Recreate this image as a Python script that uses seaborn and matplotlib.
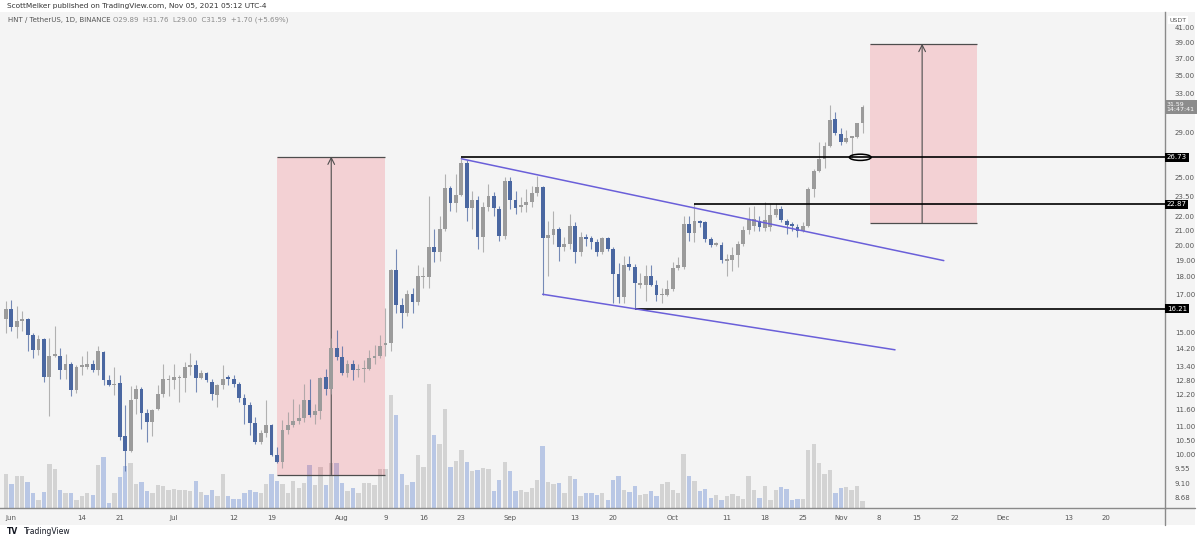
import numpy as np
import pandas as pd
import matplotlib
matplotlib.use('Agg')
import matplotlib.pyplot as plt
import matplotlib.dates as mdates
from matplotlib.patches import Ellipse, Rectangle
import seaborn as sns

# daily candles, HNT/USDT, 2021-05-31 .. 2021-11-05
opens = [15.67, 16.19, 15.26, 15.56, 15.67, 14.87, 14.16, 14.67, 12.92, 13.88,
         13.88, 13.22, 13.48, 12.38, 13.35, 13.39, 13.48, 13.22, 14.06, 12.79,
         12.58, 12.67, 10.66, 10.14, 12.02, 12.42, 11.49, 11.15, 11.64, 12.22,
         12.79, 12.79, 12.88, 12.88, 13.39, 13.44, 12.88, 13.09, 12.71, 12.18,
         12.58, 12.92, 12.84, 12.63, 12.06, 11.79, 11.12, 10.42, 10.76, 11.04,
         10.01, 9.76, 10.87, 11.04, 11.19, 11.30, 11.99, 11.41, 11.56, 12.92,
         12.42, 14.25, 13.84, 13.09, 13.52, 13.22, 13.26, 13.26, 13.79, 13.88,
         14.39, 14.49, 18.39, 16.40, 15.98, 17.00, 16.57, 17.98, 17.98, 19.89,
         19.57, 21.10, 24.13, 22.98, 23.58, 26.27, 22.60, 23.20, 20.56, 22.68,
         23.51, 22.53, 20.62, 24.69, 23.20, 22.68, 22.83, 23.05, 23.74, 24.21,
         20.49, 20.69, 21.10, 19.89, 20.09, 21.31, 19.57, 20.56, 20.49, 20.22,
         19.57, 20.49, 19.76, 18.15, 16.84, 18.76, 18.63, 17.52, 17.52, 18.04,
         17.52, 16.95, 16.95, 17.29, 18.57, 18.63, 21.45, 20.83, 21.66, 21.59,
         20.42, 20.02, 20.02, 19.00, 19.06, 19.38, 20.09, 21.03, 21.31, 21.66,
         21.17, 21.24, 22.09, 22.53, 21.66, 21.38, 21.24, 20.96, 21.31, 24.05,
         25.51, 26.62, 27.78, 30.35, 28.90, 28.15, 28.50, 28.59, 29.89]
highs = [16.62, 16.68, 16.35, 16.08, 15.70, 14.97, 14.87, 14.72, 14.72, 15.31,
         14.25, 13.97, 13.57, 13.44, 13.88, 14.11, 13.70, 14.35, 14.11, 13.00,
         13.35, 13.04, 11.79, 12.54, 12.58, 12.50, 11.64, 11.64, 12.58, 13.48,
         13.04, 13.48, 13.04, 13.57, 14.02, 13.70, 13.22, 13.17, 12.84, 12.63,
         13.44, 13.04, 13.04, 12.71, 12.22, 11.91, 11.34, 10.87, 11.99, 11.08,
         10.28, 11.23, 11.52, 12.02, 11.83, 12.63, 12.84, 11.83, 12.92, 13.26,
         14.72, 15.11, 14.35, 13.66, 13.66, 13.48, 13.66, 14.16, 14.39, 14.87,
         16.24, 18.51, 19.76, 16.78, 17.23, 17.34, 18.70, 18.63, 23.51, 21.10,
         22.01, 25.26, 24.29, 25.26, 26.62, 26.53, 23.89, 23.51, 23.05, 24.45,
         23.82, 22.75, 25.01, 25.01, 23.89, 23.43, 24.05, 24.29, 25.09, 24.29,
         21.66, 22.38, 21.24, 20.56, 22.16, 21.59, 20.90, 20.76, 20.62, 20.42,
         20.56, 20.56, 19.89, 18.82, 19.31, 19.31, 18.76, 18.21, 18.70, 18.70,
         17.80, 17.34, 17.80, 18.94, 19.25, 22.01, 22.01, 22.90, 21.73, 21.66,
         20.56, 20.22, 20.22, 19.44, 19.89, 20.29, 21.31, 22.68, 22.75, 22.01,
         23.05, 22.90, 22.98, 22.75, 21.80, 21.59, 21.45, 21.59, 24.21, 25.68,
         28.15, 28.15, 31.77, 31.05, 29.47, 29.28, 28.59, 29.96, 31.76]
lows = [14.97, 15.06, 14.72, 15.06, 14.11, 13.75, 13.93, 12.71, 11.38, 13.84,
        12.84, 12.84, 12.14, 12.26, 13.04, 13.26, 13.13, 13.04, 12.58, 12.54,
        12.18, 10.52, 9.47, 10.11, 11.45, 10.90, 10.42, 10.66, 11.60, 12.10,
        12.14, 12.42, 11.91, 12.30, 13.04, 12.30, 12.84, 12.71, 11.99, 11.71,
        12.42, 12.58, 12.50, 11.91, 11.08, 10.69, 10.38, 10.35, 10.62, 9.95,
        9.73, 9.57, 10.73, 10.97, 11.08, 11.15, 11.34, 11.08, 11.26, 12.18,
        12.22, 13.66, 13.04, 12.92, 12.79, 12.92, 12.71, 13.22, 13.48, 13.79,
        13.88, 14.11, 15.98, 15.21, 15.82, 15.98, 16.40, 17.34, 17.34, 18.94,
        19.00, 20.96, 22.38, 22.31, 23.51, 21.66, 21.10, 19.76, 19.57, 22.38,
        22.01, 20.29, 20.42, 22.53, 22.16, 22.31, 22.31, 22.68, 23.51, 16.95,
        18.04, 20.09, 19.00, 19.63, 19.76, 18.82, 19.31, 19.96, 19.76, 19.31,
        19.44, 19.63, 16.51, 16.51, 16.51, 18.39, 16.24, 17.34, 16.62, 17.46,
        16.62, 16.51, 16.89, 17.17, 18.39, 18.51, 20.29, 20.22, 21.24, 20.22,
        19.89, 19.96, 18.82, 18.04, 18.33, 18.63, 19.96, 20.76, 20.96, 20.96,
        20.96, 20.96, 21.95, 21.59, 20.76, 20.96, 20.56, 20.90, 21.24, 23.43,
        25.43, 25.84, 27.69, 28.80, 27.87, 28.06, 26.70, 28.50, 29.00]
closes = [16.19, 15.26, 15.56, 15.67, 14.87, 14.16, 14.67, 12.92, 13.88, 13.93,
          13.22, 13.48, 12.38, 13.35, 13.44, 13.48, 13.22, 14.11, 12.79, 12.58,
          12.63, 10.62, 10.14, 11.99, 12.42, 11.49, 11.15, 11.60, 12.22, 12.84,
          12.84, 12.92, 12.92, 13.39, 13.44, 12.88, 13.09, 12.79, 12.22, 12.58,
          12.84, 12.84, 12.63, 12.06, 11.79, 11.12, 10.42, 10.76, 11.04, 10.01,
          9.76, 10.87, 11.04, 11.19, 11.30, 11.99, 11.41, 11.56, 12.88, 12.42,
          14.25, 13.84, 13.09, 13.52, 13.22, 13.26, 13.31, 13.79, 13.88, 14.35,
          14.49, 18.39, 16.40, 15.98, 17.00, 16.57, 18.04, 18.04, 19.89, 19.57,
          21.10, 24.13, 22.98, 23.58, 26.27, 22.60, 23.20, 20.56, 22.68, 23.51,
          22.60, 20.62, 24.69, 23.20, 22.60, 22.83, 23.05, 23.74, 24.21, 20.49,
          20.69, 21.10, 19.89, 20.09, 21.31, 19.57, 20.56, 20.42, 20.22, 19.57,
          20.49, 19.76, 18.15, 16.84, 18.70, 18.63, 17.63, 17.63, 18.04, 17.52,
          16.95, 17.00, 17.29, 18.57, 18.70, 21.45, 20.83, 21.66, 21.52, 20.42,
          20.02, 20.09, 19.06, 19.13, 19.38, 20.09, 21.03, 21.73, 21.80, 21.24,
          21.73, 22.09, 22.53, 21.73, 21.38, 21.31, 20.96, 21.31, 24.05, 25.51,
          26.62, 27.78, 30.25, 28.99, 28.15, 28.50, 28.59, 29.89, 31.59]
volumes = [34, 24, 32, 32, 26, 15, 8, 16, 44, 39,
           18, 15, 15, 8, 12, 15, 13, 43, 51, 5,
           15, 31, 42, 45, 24, 26, 17, 15, 23, 22,
           18, 19, 18, 18, 17, 27, 16, 13, 18, 12,
           34, 12, 9, 9, 15, 18, 16, 15, 24, 34,
           27, 24, 15, 27, 20, 25, 43, 23, 41, 23,
           45, 45, 25, 17, 20, 15, 25, 25, 23, 39,
           39, 113, 93, 34, 23, 26, 53, 41, 124, 73,
           64, 99, 41, 47, 58, 46, 37, 38, 40, 39,
           17, 28, 46, 37, 17, 18, 16, 20, 28, 62,
           26, 24, 25, 15, 32, 29, 12, 15, 15, 13,
           15, 8, 28, 32, 18, 16, 22, 13, 14, 17,
           12, 24, 26, 18, 15, 54, 32, 27, 17, 19,
           10, 13, 8, 12, 14, 12, 9, 32, 18, 10,
           22, 8, 18, 21, 19, 8, 9, 9, 58, 64,
           45, 34, 38, 15, 20, 21, 18, 22, 7]
start_day = '2021-05-31'

tick_dates = ['2021-06-01', '2021-06-14', '2021-06-21', '2021-07-01', '2021-07-12',
              '2021-07-19', '2021-08-01', '2021-08-09', '2021-08-16', '2021-08-23',
              '2021-09-01', '2021-09-13', '2021-09-20', '2021-10-01', '2021-10-11',
              '2021-10-18', '2021-10-25', '2021-11-01', '2021-11-08', '2021-11-15',
              '2021-11-22', '2021-12-01', '2021-12-13', '2021-12-20']
tick_names = ['Jun', '14', '21', 'Jul', '12', '19', 'Aug', '9', '16', '23', 'Sep',
              '13', '20', 'Oct', '11', '18', '25', 'Nov', '8', '15', '22', 'Dec',
              '13', '20']
price_ticks = [8.68, 9.10, 9.55, 10.00, 10.50, 11.00, 11.60, 12.20, 12.80, 13.40,
               14.20, 15.00, 17.00, 18.00, 19.00, 20.00, 21.00, 22.00, 23.50,
               25.00, 29.00, 33.00, 35.00, 37.00, 39.00, 41.00]

# drawings
level_prices = [26.73, 22.87, 16.21]
level_starts = ['2021-08-23', '2021-10-05', '2021-09-24']
upper_line_x = ['2021-08-23', '2021-11-20']
upper_line_y = [26.6, 19.0]
lower_line_x = ['2021-09-07', '2021-11-11']
lower_line_y = [17.0, 14.15]
range1_x = ['2021-07-20 00:00', '2021-08-09 00:00', '2021-07-30 00:00']
range1_y = [9.37, 26.8]
range2_x = ['2021-11-06 10:00', '2021-11-26 05:00', '2021-11-16 00:00']
range2_y = [21.5, 38.9]
ring_x = '2021-11-04 14:00'
ring_y = 26.73
last_close = 31.59

UP = '#9b9b9b'
DOWN = '#4a67a1'
UP_VOL = '#d3d3d3'
DOWN_VOL = '#b9c7e5'
BG = '#f4f4f4'
LINE_BLUE = '#6a5fd9'
PINK = (0.95, 0.21, 0.27, 0.18)

sns.set_theme(style='white')
plt.rcParams['font.family'] = ['DejaVu Sans']

W, H = 1200, 539
fig = plt.figure(figsize=(W / 100, H / 100), dpi=100, facecolor='white')
fig.patches.append(Rectangle((0, 14 / H), 1195 / W, 513 / H, transform=fig.transFigure,
                             facecolor=BG, edgecolor='none', zorder=-10))
pos = [0, 31 / H, 1165 / W, 496 / H]

dates = pd.date_range(start_day, periods=len(closes), freq='D')
x = mdates.date2num(dates)
o = np.array(opens)
c = np.array(closes)
hi = np.array(highs)
lo = np.array(lows)
up = c >= o

# volume panel underneath
axv = fig.add_axes(pos)
axv.set_facecolor(BG)
axv.bar(x, volumes, width=0.8, color=np.where(up, UP_VOL, DOWN_VOL), linewidth=0)
axv.set_ylim(0, max(volumes) * 4.0)
axv.xaxis.set_visible(False)
axv.yaxis.set_visible(False)
for s in axv.spines.values():
    s.set_visible(False)

ax = fig.add_axes(pos, sharex=axv)
ax.patch.set_alpha(0)
ax.set_yscale('log')
ax.set_ylim(8.39, 43.2)
x0 = mdates.date2num(pd.Timestamp(start_day))
ax.set_xlim(x0 - 1.1, x0 + 213.8)

# measured ranges
for rx, ry in [(range1_x, range1_y), (range2_x, range2_y)]:
    a, b, m = mdates.date2num(pd.to_datetime(rx))
    ax.fill_between([a, b], ry[0], ry[1], color=PINK, linewidth=0, zorder=0.5)
    ax.hlines(ry, a, b, colors='#4d4d4d', lw=0.9, zorder=1)
    ax.annotate('', xy=(m, ry[1]), xytext=(m, ry[0]),
                arrowprops=dict(arrowstyle='->', color='#4d4d4d', lw=0.8,
                                shrinkA=0, shrinkB=0), zorder=1)

# candles
col = np.where(up, UP, DOWN)
ax.vlines(x, lo, hi, colors=col, lw=0.8, alpha=0.75, zorder=2)
b_lo = np.minimum(o, c)
b_hi = np.maximum(np.maximum(o, c), b_lo * 1.005)
ax.bar(x, b_hi - b_lo, bottom=b_lo, width=0.7, color=col, linewidth=0, zorder=3)

# levels and channel
xr = ax.get_xlim()[1]
for p, s in zip(level_prices, level_starts):
    ax.hlines(p, mdates.date2num(pd.Timestamp(s)), xr, colors='black', lw=1.2, zorder=4)
sns.lineplot(x=mdates.date2num(pd.to_datetime(upper_line_x)), y=upper_line_y, ax=ax,
             color=LINE_BLUE, lw=1.1, zorder=4)
sns.lineplot(x=mdates.date2num(pd.to_datetime(lower_line_x)), y=lower_line_y, ax=ax,
             color=LINE_BLUE, lw=1.1, zorder=4)
ax.add_patch(Ellipse((mdates.date2num(pd.Timestamp(ring_x)), ring_y), 4.0, 0.55,
                     fill=False, edgecolor='black', lw=1.1, zorder=5))

# axes styling
ax.set_xticks(mdates.date2num(pd.to_datetime(tick_dates)))
ax.set_xticklabels(tick_names)
ax.yaxis.tick_right()
ax.yaxis.set_minor_locator(matplotlib.ticker.NullLocator())
ax.yaxis.set_minor_formatter(matplotlib.ticker.NullFormatter())
ax.set_yticks(price_ticks)
ax.set_yticklabels([f'{t:.2f}' for t in price_ticks])
ax.tick_params(axis='both', length=0, labelsize=5, labelcolor='#555555')
ax.tick_params(axis='y', pad=7)
ax.tick_params(axis='x', pad=5)
ax.grid(False)
for s in ['top', 'left']:
    ax.spines[s].set_visible(False)
ax.spines['right'].set_color('#8a8a8a')
ax.spines['bottom'].set_color('#8a8a8a')
ax.spines['right'].set_linewidth(1)
ax.spines['bottom'].set_linewidth(1)
fig.add_artist(plt.Line2D([1165 / W, 1195 / W], [31 / H, 31 / H], color='#8a8a8a', lw=1,
                          transform=fig.transFigure))
fig.add_artist(plt.Line2D([1165 / W, 1165 / W], [14 / H, 31 / H], color='#8a8a8a', lw=1,
                          transform=fig.transFigure))

# price tags on the scale
tr = ax.get_yaxis_transform()
for p in level_prices:
    ax.text(1.0015, p, f'{p:.2f}', transform=tr, ha='left', va='center', fontsize=5,
            color='white', clip_on=False, zorder=10,
            bbox=dict(boxstyle='square,pad=0.25', fc='black', ec='none'))
ax.text(1.0015, last_close, f'{last_close:.2f}\n14:47:41', transform=tr, ha='left',
        va='center', fontsize=4.5, color='white', clip_on=False, zorder=10,
        linespacing=1.1, bbox=dict(boxstyle='square,pad=0.3', fc='#8c8c8c', ec='none'))
fig.text(1178 / W, 1 - 20 / H, 'USDT', fontsize=4.5, color='#555555', ha='center',
         va='center', bbox=dict(boxstyle='square,pad=0.2', fc='white', ec='none'))

# header texts
fig.text(7 / W, 1 - 6 / H, 'ScottMelker published on TradingView.com, Nov 05, 2021 05:12 UTC-4',
         fontsize=5.3, color='#333333', va='center', ha='left')
fig.text(8 / W, 1 - 20 / H, 'HNT / TetherUS, 1D, BINANCE', fontsize=5, color='#555555',
         va='center', ha='left')
fig.text(113 / W, 1 - 20 / H, 'O29.89  H31.76  L29.00  C31.59  +1.70 (+5.69%)', fontsize=5,
         color='#8a8a8a', va='center', ha='left')
fig.text(7 / W, 1 - 532 / H, 'TV', fontsize=5.5, fontweight='bold', color='#131722',
         va='center', ha='left')
fig.text(24 / W, 1 - 532 / H, 'TradingView', fontsize=5.5, color='#131722', va='center',
         ha='left')

fig.savefig('out.png', dpi=100, facecolor='white')
